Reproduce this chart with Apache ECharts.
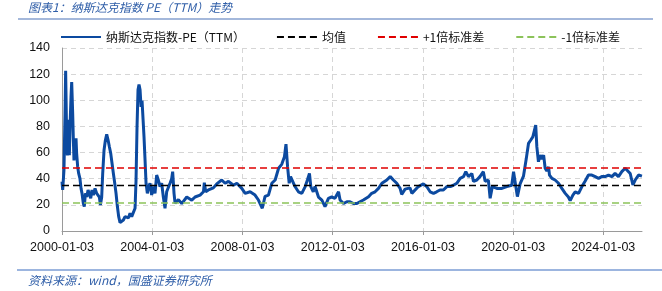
<!DOCTYPE html>
<html>
<head>
<meta charset="utf-8">
<script src="https://cdn.jsdelivr.net/npm/echarts@6/dist/echarts.min.js"></script>
<style>
html,body{margin:0;padding:0;background:#fff;}
#c{width:662px;height:291px;}
</style>
</head>
<body>
<div id="c"></div>
<script>
// ---- data ----
const dates = [
'2000-01-03','2000-01-14','2000-02-04','2000-02-21','2000-03-02','2000-03-19','2000-03-30','2000-04-09','2000-04-20','2000-05-01',
'2000-05-12','2000-05-28','2000-06-08','2000-06-24','2000-07-05','2000-07-15','2000-07-31','2000-08-17','2000-08-27','2000-09-13',
'2000-09-29','2000-10-20','2000-11-06','2000-11-22','2000-12-13','2000-12-29','2001-01-16','2001-02-06','2001-02-28','2001-03-21',
'2001-04-12','2001-05-03','2001-05-25','2001-06-21','2001-07-18','2001-08-14','2001-08-30','2001-09-16','2001-10-07','2001-10-23',
'2001-11-14','2001-12-06','2001-12-27','2002-01-18','2002-02-08','2002-03-02','2002-03-23','2002-04-14','2002-05-06','2002-05-27',
'2002-06-18','2002-07-09','2002-07-31','2002-08-27','2002-09-23','2002-10-20','2002-11-16','2002-12-13','2003-01-09','2003-02-05',
'2003-03-04','2003-03-31','2003-04-16','2003-05-02','2003-05-18','2003-06-03','2003-06-20','2003-07-06','2003-07-22','2003-08-07',
'2003-08-23','2003-09-09','2003-09-25','2003-10-16','2003-11-07','2003-11-28','2003-12-25','2004-01-21','2004-02-17','2004-03-15',
'2004-04-11','2004-05-08','2004-06-04','2004-07-01','2004-07-28','2004-08-24','2004-09-20','2004-10-17','2004-11-13','2004-11-29',
'2004-12-21','2005-01-07','2005-02-03','2005-03-02','2005-04-25','2005-07-15','2005-10-04','2005-11-27','2006-02-16','2006-04-12',
'2006-04-26','2006-05-18','2006-07-01','2006-09-19','2006-11-13','2007-02-01','2007-03-28','2007-05-22','2007-08-10','2007-10-04',
'2007-12-23','2008-02-16','2008-05-06','2008-07-25','2008-09-18','2008-11-19','2009-01-03','2009-02-27','2009-04-22','2009-06-16',
'2009-08-10','2009-09-30','2009-11-13','2009-12-08','2010-01-03','2010-01-29','2010-02-20','2010-05-03','2010-06-27','2010-08-21',
'2010-10-15','2010-11-20','2010-12-23','2011-01-14','2011-02-23','2011-03-24','2011-05-18','2011-07-12','2011-09-01','2011-10-26',
'2011-12-19','2012-02-09','2012-04-07','2012-05-02','2012-06-26','2012-08-20','2012-10-10','2012-12-04','2013-01-29','2013-03-21',
'2013-05-14','2013-08-06','2013-09-26','2013-11-20','2014-01-14','2014-03-10','2014-05-29','2014-07-23','2014-09-12','2014-11-06',
'2014-12-30','2015-01-25','2015-03-21','2015-06-09','2015-07-08','2015-10-22','2016-01-10','2016-03-05','2016-04-29','2016-06-23',
'2016-08-13','2016-10-06','2016-11-30','2017-01-25','2017-03-21','2017-05-11','2017-07-05','2017-08-28','2017-10-22','2017-11-28',
'2018-01-10','2018-03-06','2018-04-01','2018-05-25','2018-07-15','2018-09-08','2018-10-07','2018-11-28','2018-12-27','2019-02-01',
'2019-04-15','2019-07-05','2019-09-23','2019-12-12','2020-01-10','2020-02-05','2020-03-12','2020-04-25','2020-06-19','2020-08-02',
'2020-09-08','2020-10-15','2020-11-17','2020-12-08','2021-01-03','2021-01-21','2021-02-16','2021-03-17','2021-04-12','2021-05-11',
'2021-06-05','2021-07-01','2021-07-30','2021-08-14','2021-09-23','2021-11-13','2022-01-07','2022-03-02','2022-04-26','2022-06-16',
'2022-07-15','2022-08-28','2022-10-04','2022-11-28','2023-01-21','2023-03-13','2023-05-07','2023-07-01','2023-08-25','2023-10-18',
'2023-11-13','2023-12-08','2024-02-01','2024-03-27','2024-05-21','2024-07-11','2024-09-04','2024-10-28','2024-12-22','2025-01-18',
'2025-03-13','2025-04-26','2025-06-02','2025-07-26','2025-09-19'
];
const pe = [
37.7,31.4,46.7,90,122.6,69.6,57.8,85,74.4,58,
80,102.8,114,90,69.6,54,64.5,71,59.4,49,
44,40,32.6,28.8,21.2,18.7,28.8,26,31.4,30,
25,31.4,27.5,32.6,28.8,30,26,19.9,26,44,
62,69.6,74,69.6,64.5,59.4,51.8,44,36.5,28.8,
18.7,11,6.4,5.8,8.4,11,12.2,10,13.5,11,
12.2,17.4,39,79.8,108,112,108,95,99.8,86,
72,54,36.5,28.8,34,36.5,27.5,34,28.8,42.8,
39,34,36.5,26,17.4,30,28.8,36.5,40,45.4,
28.8,21.2,22.4,24,21,26,23.6,26,27.5,30,
37,30,31.4,33,36,39,36.5,38,35,36.5,
32.6,28.8,30,27.5,23.7,17.4,26.5,27.5,36.5,39,
48,51,56.8,66.5,49,36.5,41.6,34,30,28.8,
34,39,44,34,30,34,26,23.7,18.6,25,
26,25,30,23.7,21,22.4,22.4,21,21,22.4,
23.7,26.2,28.8,30,32.6,36.5,39,41.6,39,36.5,
32.6,28,32,33,28.8,34,36,34,30,28.8,
30,31.4,31.4,34,34,35,36.5,40.3,41.6,45.4,
41.6,44,38,39,41.6,45.4,38,39,25,34,
32.6,32.6,34,35,45.4,44,26.3,36,42,55,
67,69.6,72,72,81,64.5,53,58,55,58,
48,46,49,42.8,40.3,39,36.5,32.6,28.8,26,
23.2,27.5,30,28.8,34,38,42.8,42.8,41.6,40.3,
39,41.6,41.6,42.8,41.6,44.1,41.6,45.4,48,46.7,
44,35.2,39,42.8,42
];
const meanVal = 34.8;
const plusOneStd = 48.2;
const minusOneStd = 21.4;
const xTickLabels = ['2000-01-03','2004-01-03','2008-01-03','2012-01-03','2016-01-03','2020-01-03','2024-01-03'];
const startDate = '2000-01-03';
const endDate = '2025-09-20';
const seriesNames = ['纳斯达克指数-PE（TTM）','均值','+1倍标准差','-1倍标准差'];

// ---- helpers ----
function toDay(s){
  const p = s.split('-').map(Number);
  return Math.round((Date.UTC(p[0],p[1]-1,p[2]) - Date.UTC(2000,0,3))/86400000);
}
function fromDay(d){
  const t = new Date(Date.UTC(2000,0,3) + d*86400000);
  const mm = String(t.getUTCMonth()+1).padStart(2,'0');
  const dd = String(t.getUTCDate()).padStart(2,'0');
  return t.getUTCFullYear()+'-'+mm+'-'+dd;
}
const xMin = toDay(startDate), xMax = toDay(endDate);
const tickDays = xTickLabels.map(toDay);
const peData = dates.map((d,i)=>[toDay(d), pe[i]]);
function flat(v){ return [[xMin,v],[xMax,v]]; }

const chart = echarts.init(document.getElementById('c'), null, {renderer:'canvas'});
const font = '"Liberation Sans", Arial, "Noto Sans CJK SC", sans-serif';
const cjk = '"Noto Sans CJK SC", "Liberation Sans", sans-serif';
chart.setOption({
  animation:false,
  backgroundColor:'#fff',
  grid:{left:62,right:20,top:48,bottom:60,containLabel:false},
  legend:{
    left:55, top:26, itemWidth:40, itemHeight:12, itemGap:31,
    itemStyle:{opacity:0},
    textStyle:{fontSize:12,color:'#111',fontFamily:cjk},
    data:seriesNames
  },
  xAxis:{
    type:'value', min:xMin, max:xMax,
    axisLine:{show:true,lineStyle:{color:'#9a9a9a',width:1}},
    axisTick:{show:true,length:4,lineStyle:{color:'#9a9a9a'},customValues:tickDays},
    axisLabel:{color:'#111',fontSize:12.5,fontFamily:font,margin:10,customValues:tickDays,
      formatter:function(v){return fromDay(v);}},
    splitLine:{show:true,lineStyle:{color:'#d6d6d6',type:[5,4],width:1}}
  },
  yAxis:{
    type:'value', min:0, max:140, interval:20,
    axisLine:{show:true,lineStyle:{color:'#9a9a9a',width:1}},
    axisTick:{show:false},
    axisLabel:{color:'#111',fontSize:12.5,fontFamily:font,margin:12},
    splitLine:{show:true,lineStyle:{color:'#d6d6d6',type:[5,4],width:1}}
  },
  series:[
    {name:seriesNames[0],type:'line',data:peData,symbol:'none',showSymbol:false,
      lineStyle:{color:'#0c4aa0',width:3},itemStyle:{color:'#0c4aa0'},z:2},
    {name:seriesNames[1],type:'line',data:flat(meanVal),symbol:'none',
      lineStyle:{color:'#000',width:1.5,type:[7,4]},itemStyle:{color:'#000'},z:3},
    {name:seriesNames[2],type:'line',data:flat(plusOneStd),symbol:'none',
      lineStyle:{color:'#e00000',width:1.5,type:[7,4]},itemStyle:{color:'#e00000'},z:3},
    {name:seriesNames[3],type:'line',data:flat(minusOneStd),symbol:'none',
      lineStyle:{color:'#8cc35a',width:1.5,type:[7,4]},itemStyle:{color:'#8cc35a'},z:3}
  ],
  graphic:[
    {type:'text',left:28,top:1,style:{text:'图表1：纳斯达克指数 PE（TTM）走势',font:'italic 12px "Noto Sans CJK SC", sans-serif',fill:'#2f5ea8'}},
    {type:'line',shape:{x1:18,y1:19,x2:653,y2:19},style:{stroke:'#4a72b8',lineWidth:1.2}},
    {type:'line',shape:{x1:17,y1:270,x2:662,y2:270},style:{stroke:'#3a6cc0',lineWidth:1.2}},
    {type:'text',left:28,top:274,style:{text:'资料来源：wind，国盛证券研究所',font:'italic 12px "Noto Sans CJK SC", sans-serif',fill:'#2f5ea8'}}
  ]
});
</script>
</body>
</html>
